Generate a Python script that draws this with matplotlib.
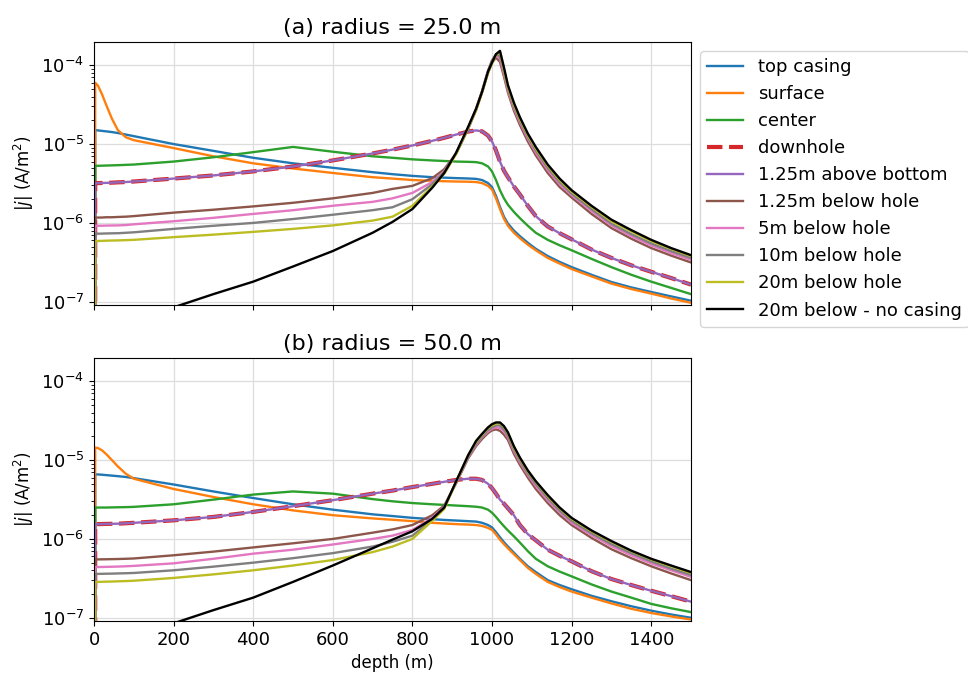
import matplotlib
matplotlib.use("Agg")
import matplotlib.pyplot as plt

depth = [0, 3, 10, 20, 30, 45, 60, 80, 100,
         200, 300, 400, 500, 600, 700, 750, 800, 850,
         880, 910, 940, 960, 975, 990, 1000, 1010, 1020,
         1030, 1040, 1055, 1070, 1090, 1110, 1140, 1170, 1200,
         1250, 1300, 1350, 1400, 1450, 1500]

labels = ["top casing", "surface", "center", "downhole", "1.25m above bottom",
          "1.25m below hole", "5m below hole", "10m below hole", "20m below hole",
          "20m below - no casing"]

# ---------------- (a) radius = 25.0 m ----------------
a_top_casing = [0, 1.5e-5, 1.49e-5, 1.47e-5, 1.45e-5, 1.42e-5, 1.38e-5, 1.32e-5, 1.26e-5,
                1.0e-5, 8.2e-6, 6.7e-6, 5.7e-6, 5.0e-6, 4.4e-6, 4.15e-6, 3.95e-6, 3.8e-6,
                3.75e-6, 3.7e-6, 3.66e-6, 3.62e-6, 3.5e-6, 3.2e-6, 2.85e-6, 2.2e-6, 1.6e-6,
                1.2e-6, 9.8e-7, 8.0e-7, 6.8e-7, 5.6e-7, 4.7e-7, 3.8e-7, 3.2e-7, 2.75e-7,
                2.2e-7, 1.78e-7, 1.52e-7, 1.33e-7, 1.17e-7, 1.03e-7]
a_surface = [0, 6e-5, 5.5e-5, 4.3e-5, 3.2e-5, 2.1e-5, 1.5e-5, 1.22e-5, 1.12e-5,
             8.9e-6, 7.0e-6, 5.7e-6, 4.9e-6, 4.3e-6, 3.8e-6, 3.65e-6, 3.5e-6, 3.42e-6,
             3.38e-6, 3.35e-6, 3.33e-6, 3.3e-6, 3.2e-6, 2.95e-6, 2.65e-6, 2.05e-6, 1.5e-6,
             1.13e-6, 9.2e-7, 7.5e-7, 6.4e-7, 5.3e-7, 4.5e-7, 3.6e-7, 3.05e-7, 2.6e-7,
             2.1e-7, 1.7e-7, 1.45e-7, 1.27e-7, 1.1e-7, 9.7e-8]
a_center = [0, 5.3e-6, 5.3e-6, 5.32e-6, 5.34e-6, 5.37e-6, 5.4e-6, 5.45e-6, 5.5e-6,
            6.0e-6, 6.8e-6, 7.9e-6, 9.2e-6, 8.0e-6, 7.0e-6, 6.7e-6, 6.4e-6, 6.2e-6,
            6.1e-6, 6.0e-6, 5.95e-6, 5.9e-6, 5.7e-6, 5.2e-6, 4.5e-6, 3.5e-6, 2.6e-6,
            2.05e-6, 1.7e-6, 1.38e-6, 1.15e-6, 9.2e-7, 7.5e-7, 6.1e-7, 5.2e-7, 4.5e-7,
            3.5e-7, 2.75e-7, 2.2e-7, 1.8e-7, 1.5e-7, 1.25e-7]
a_downhole = [0, 3.2e-6, 3.2e-6, 3.21e-6, 3.22e-6, 3.24e-6, 3.27e-6, 3.3e-6, 3.35e-6,
              3.65e-6, 4.0e-6, 4.5e-6, 5.2e-6, 6.2e-6, 7.6e-6, 8.5e-6, 9.6e-6, 1.1e-5,
              1.2e-5, 1.32e-5, 1.44e-5, 1.49e-5, 1.45e-5, 1.28e-5, 1.08e-5, 8.3e-6, 6.0e-6,
              4.6e-6, 3.8e-6, 2.9e-6, 2.3e-6, 1.65e-6, 1.22e-6, 9.0e-7, 7.4e-7, 6.2e-7,
              4.6e-7, 3.6e-7, 2.9e-7, 2.4e-7, 2.0e-7, 1.65e-7]
a_above_bottom = [0, 3.2e-6, 3.2e-6, 3.21e-6, 3.22e-6, 3.24e-6, 3.27e-6, 3.3e-6, 3.35e-6,
                  3.65e-6, 4.0e-6, 4.5e-6, 5.2e-6, 6.2e-6, 7.6e-6, 8.5e-6, 9.6e-6, 1.1e-5,
                  1.2e-5, 1.32e-5, 1.44e-5, 1.49e-5, 1.45e-5, 1.28e-5, 1.08e-5, 8.3e-6, 6.0e-6,
                  4.6e-6, 3.8e-6, 2.9e-6, 2.3e-6, 1.65e-6, 1.22e-6, 9.0e-7, 7.4e-7, 6.2e-7,
                  4.6e-7, 3.6e-7, 2.9e-7, 2.4e-7, 2.0e-7, 1.65e-7]
a_below_1 = [0, 1.17e-6, 1.17e-6, 1.17e-6, 1.18e-6, 1.18e-6, 1.19e-6, 1.2e-6, 1.22e-6,
             1.35e-6, 1.47e-6, 1.62e-6, 1.8e-6, 2.05e-6, 2.4e-6, 2.7e-6, 2.95e-6, 3.7e-6,
             4.8e-6, 7.6e-6, 1.55e-5, 2.7e-5, 4.5e-5, 8.0e-5, 1.08e-4, 1.25e-4, 1.1e-4,
             7.2e-5, 4.5e-5, 2.65e-5, 1.75e-5, 1.08e-5, 7.2e-6, 4.3e-6, 2.85e-6, 2.1e-6,
             1.3e-6, 8.6e-7, 6.3e-7, 4.8e-7, 3.85e-7, 3.15e-7]
a_below_5 = [0, 9.2e-7, 9.2e-7, 9.22e-7, 9.25e-7, 9.28e-7, 9.3e-7, 9.4e-7, 9.6e-7,
             1.05e-6, 1.16e-6, 1.3e-6, 1.45e-6, 1.65e-6, 1.85e-6, 2.05e-6, 2.4e-6, 3.3e-6,
             4.5e-6, 7.6e-6, 1.6e-5, 2.8e-5, 4.7e-5, 8.5e-5, 1.15e-4, 1.33e-4, 1.2e-4,
             7.8e-5, 4.8e-5, 2.85e-5, 1.9e-5, 1.18e-5, 7.8e-6, 4.7e-6, 3.1e-6, 2.25e-6,
             1.42e-6, 9.3e-7, 6.8e-7, 5.2e-7, 4.15e-7, 3.4e-7]
a_below_10 = [0, 7.3e-7, 7.3e-7, 7.32e-7, 7.35e-7, 7.38e-7, 7.4e-7, 7.5e-7, 7.6e-7,
              8.4e-7, 9.2e-7, 1.0e-6, 1.12e-6, 1.27e-6, 1.45e-6, 1.58e-6, 2.0e-6, 3.1e-6,
              4.4e-6, 7.6e-6, 1.6e-5, 2.8e-5, 4.7e-5, 8.5e-5, 1.15e-4, 1.38e-4, 1.3e-4,
              8.4e-5, 5.1e-5, 3.0e-5, 2.0e-5, 1.24e-5, 8.3e-6, 5.0e-6, 3.3e-6, 2.35e-6,
              1.5e-6, 9.8e-7, 7.2e-7, 5.5e-7, 4.4e-7, 3.6e-7]
a_below_20 = [0, 5.9e-7, 5.9e-7, 5.92e-7, 5.95e-7, 5.98e-7, 6.0e-7, 6.05e-7, 6.1e-7,
              6.6e-7, 7.1e-7, 7.7e-7, 8.4e-7, 9.3e-7, 1.07e-6, 1.2e-6, 1.65e-6, 2.9e-6,
              4.2e-6, 7.5e-6, 1.6e-5, 2.7e-5, 4.5e-5, 8.0e-5, 1.05e-4, 1.35e-4, 1.5e-4,
              8.8e-5, 5.3e-5, 3.2e-5, 2.1e-5, 1.3e-5, 8.8e-6, 5.3e-6, 3.5e-6, 2.5e-6,
              1.6e-6, 1.05e-6, 7.8e-7, 5.9e-7, 4.7e-7, 3.8e-7]
a_no_casing = [4.2e-8, 4.2e-8, 4.3e-8, 4.4e-8, 4.5e-8, 4.7e-8, 5.0e-8, 5.4e-8, 5.9e-8,
               8.5e-8, 1.25e-7, 1.8e-7, 2.8e-7, 4.4e-7, 7.5e-7, 1.03e-6, 1.5e-6, 2.8e-6,
               4.3e-6, 7.8e-6, 1.65e-5, 2.8e-5, 4.6e-5, 8.3e-5, 1.08e-4, 1.38e-4, 1.52e-4,
               9.4e-5, 5.6e-5, 3.35e-5, 2.2e-5, 1.36e-5, 9.2e-6, 5.5e-6, 3.65e-6, 2.6e-6,
               1.65e-6, 1.1e-6, 8.1e-7, 6.1e-7, 4.8e-7, 3.9e-7]

# ---------------- (b) radius = 50.0 m ----------------
b_top_casing = [0, 6.6e-6, 6.57e-6, 6.52e-6, 6.45e-6, 6.35e-6, 6.25e-6, 6.1e-6, 5.9e-6,
                4.9e-6, 4.0e-6, 3.3e-6, 2.75e-6, 2.35e-6, 2.05e-6, 1.95e-6, 1.85e-6, 1.78e-6,
                1.74e-6, 1.71e-6, 1.68e-6, 1.66e-6, 1.6e-6, 1.5e-6, 1.4e-6, 1.22e-6, 1.05e-6,
                9.1e-7, 8.0e-7, 6.7e-7, 5.6e-7, 4.5e-7, 3.8e-7, 3.0e-7, 2.6e-7, 2.3e-7,
                1.9e-7, 1.62e-7, 1.4e-7, 1.23e-7, 1.1e-7, 1.0e-7]
b_surface = [0, 1.44e-5, 1.42e-5, 1.33e-5, 1.2e-5, 1.0e-5, 8.3e-6, 6.7e-6, 5.8e-6,
             4.3e-6, 3.4e-6, 2.75e-6, 2.3e-6, 2.0e-6, 1.82e-6, 1.75e-6, 1.68e-6, 1.6e-6,
             1.57e-6, 1.54e-6, 1.52e-6, 1.5e-6, 1.46e-6, 1.38e-6, 1.3e-6, 1.14e-6, 9.8e-7,
             8.6e-7, 7.6e-7, 6.4e-7, 5.4e-7, 4.3e-7, 3.6e-7, 2.85e-7, 2.45e-7, 2.15e-7,
             1.8e-7, 1.52e-7, 1.3e-7, 1.15e-7, 1.04e-7, 9.5e-8]
b_center = [0, 2.5e-6, 2.5e-6, 2.5e-6, 2.5e-6, 2.51e-6, 2.52e-6, 2.53e-6, 2.55e-6,
            2.75e-6, 3.15e-6, 3.65e-6, 4.0e-6, 3.75e-6, 3.2e-6, 3.0e-6, 2.85e-6, 2.75e-6,
            2.7e-6, 2.65e-6, 2.6e-6, 2.56e-6, 2.5e-6, 2.35e-6, 2.15e-6, 1.9e-6, 1.65e-6,
            1.45e-6, 1.28e-6, 1.08e-6, 9.0e-7, 7.0e-7, 5.6e-7, 4.5e-7, 3.85e-7, 3.35e-7,
            2.65e-7, 2.15e-7, 1.8e-7, 1.5e-7, 1.32e-7, 1.18e-7]
b_downhole = [0, 1.54e-6, 1.54e-6, 1.545e-6, 1.55e-6, 1.555e-6, 1.56e-6, 1.58e-6, 1.6e-6,
              1.72e-6, 1.9e-6, 2.2e-6, 2.6e-6, 3.1e-6, 3.75e-6, 4.1e-6, 4.55e-6, 5.0e-6,
              5.3e-6, 5.6e-6, 5.8e-6, 5.8e-6, 5.6e-6, 5.0e-6, 4.4e-6, 3.75e-6, 3.15e-6,
              2.8e-6, 2.45e-6, 2.0e-6, 1.5e-6, 1.15e-6, 9.6e-7, 7.3e-7, 6.1e-7, 5.2e-7,
              3.9e-7, 3.1e-7, 2.6e-7, 2.2e-7, 1.88e-7, 1.6e-7]
b_above_bottom = [0, 1.54e-6, 1.54e-6, 1.545e-6, 1.55e-6, 1.555e-6, 1.56e-6, 1.58e-6, 1.6e-6,
                  1.72e-6, 1.9e-6, 2.2e-6, 2.6e-6, 3.1e-6, 3.75e-6, 4.1e-6, 4.55e-6, 5.0e-6,
                  5.3e-6, 5.6e-6, 5.8e-6, 5.8e-6, 5.6e-6, 5.0e-6, 4.4e-6, 3.75e-6, 3.15e-6,
                  2.8e-6, 2.45e-6, 2.0e-6, 1.5e-6, 1.15e-6, 9.6e-7, 7.3e-7, 6.1e-7, 5.2e-7,
                  3.9e-7, 3.1e-7, 2.6e-7, 2.2e-7, 1.88e-7, 1.6e-7]
b_below_1 = [0, 5.5e-7, 5.5e-7, 5.51e-7, 5.52e-7, 5.54e-7, 5.56e-7, 5.6e-7, 5.65e-7,
             6.2e-7, 6.9e-7, 7.8e-7, 8.8e-7, 1.0e-6, 1.2e-6, 1.32e-6, 1.5e-6, 2.0e-6,
             2.65e-6, 5.1e-6, 1.05e-5, 1.5e-5, 1.85e-5, 2.2e-5, 2.38e-5, 2.45e-5, 2.35e-5,
             2.1e-5, 1.8e-5, 1.2e-5, 8.7e-6, 6.0e-6, 4.3e-6, 2.85e-6, 2.0e-6, 1.5e-6,
             1.03e-6, 7.4e-7, 5.7e-7, 4.5e-7, 3.65e-7, 3.0e-7]
b_below_5 = [0, 4.4e-7, 4.4e-7, 4.41e-7, 4.42e-7, 4.44e-7, 4.46e-7, 4.5e-7, 4.55e-7,
             4.9e-7, 5.6e-7, 6.5e-7, 7.3e-7, 8.5e-7, 1.0e-6, 1.1e-6, 1.3e-6, 1.85e-6,
             2.55e-6, 5.2e-6, 1.08e-5, 1.55e-5, 1.95e-5, 2.3e-5, 2.5e-5, 2.6e-5, 2.55e-5,
             2.3e-5, 1.95e-5, 1.3e-5, 9.4e-6, 6.5e-6, 4.7e-6, 3.1e-6, 2.2e-6, 1.6e-6,
             1.12e-6, 8.1e-7, 6.2e-7, 4.9e-7, 4.0e-7, 3.3e-7]
b_below_10 = [0, 3.6e-7, 3.6e-7, 3.61e-7, 3.62e-7, 3.63e-7, 3.65e-7, 3.67e-7, 3.7e-7,
              4.0e-7, 4.45e-7, 5.0e-7, 5.7e-7, 6.6e-7, 8.0e-7, 9.2e-7, 1.1e-6, 1.75e-6,
              2.5e-6, 5.3e-6, 1.1e-5, 1.6e-5, 2.0e-5, 2.4e-5, 2.6e-5, 2.75e-5, 2.75e-5,
              2.45e-5, 2.05e-5, 1.37e-5, 9.9e-6, 6.8e-6, 5.0e-6, 3.3e-6, 2.3e-6, 1.7e-6,
              1.18e-6, 8.6e-7, 6.6e-7, 5.2e-7, 4.2e-7, 3.5e-7]
b_below_20 = [0, 2.85e-7, 2.85e-7, 2.86e-7, 2.87e-7, 2.88e-7, 2.9e-7, 2.92e-7, 2.95e-7,
              3.2e-7, 3.55e-7, 4.0e-7, 4.6e-7, 5.4e-7, 6.8e-7, 8.0e-7, 1.0e-6, 1.7e-6,
              2.4e-6, 5.3e-6, 1.15e-5, 1.7e-5, 2.1e-5, 2.55e-5, 2.75e-5, 2.9e-5, 2.95e-5,
              2.65e-5, 2.2e-5, 1.45e-5, 1.05e-5, 7.2e-6, 5.3e-6, 3.5e-6, 2.45e-6, 1.8e-6,
              1.25e-6, 9.2e-7, 7.0e-7, 5.5e-7, 4.5e-7, 3.7e-7]
b_no_casing = [4.2e-8, 4.2e-8, 4.3e-8, 4.4e-8, 4.5e-8, 4.7e-8, 5.0e-8, 5.4e-8, 5.9e-8,
               8.5e-8, 1.25e-7, 1.8e-7, 2.85e-7, 4.6e-7, 7.6e-7, 9.8e-7, 1.25e-6, 1.8e-6,
               2.5e-6, 5.4e-6, 1.15e-5, 1.75e-5, 2.15e-5, 2.6e-5, 2.85e-5, 3.0e-5, 3.0e-5,
               2.7e-5, 2.25e-5, 1.5e-5, 1.08e-5, 7.4e-6, 5.4e-6, 3.6e-6, 2.5e-6, 1.85e-6,
               1.28e-6, 9.4e-7, 7.1e-7, 5.6e-7, 4.6e-7, 3.8e-7]

titles = ["(a) radius = 25.0 m", "(b) radius = 50.0 m"]
xticks = [0, 200, 400, 600, 800, 1000, 1200, 1400]

series_a = [a_top_casing, a_surface, a_center, a_downhole, a_above_bottom, a_below_1,
            a_below_5, a_below_10, a_below_20, a_no_casing]
series_b = [b_top_casing, b_surface, b_center, b_downhole, b_above_bottom, b_below_1,
            b_below_5, b_below_10, b_below_20, b_no_casing]

colors = ["C0", "C1", "C2", "C3", "C4", "C5", "C6", "C7", "C8", "k"]
styles = ["-", "-", "-", "--", "-", "-", "-", "-", "-", "-"]
widths = [1.7, 1.7, 1.7, 3.0, 1.7, 1.7, 1.7, 1.7, 1.7, 1.7]

plt.rcParams["font.family"] = ["DejaVu Sans"]
fig = plt.figure(figsize=(9.68, 6.76), dpi=100)
W, H = 968.0, 676.0
ax1 = fig.add_axes([94 / W, 1 - 305 / H, (691 - 94) / W, (305 - 42) / H])
ax2 = fig.add_axes([94 / W, 1 - 621 / H, (691 - 94) / W, (621 - 358) / H],
                   sharex=ax1, sharey=ax1)

for ax, series, title in [(ax1, series_a, titles[0]), (ax2, series_b, titles[1])]:
    for vals, lab, c, ls, lw in zip(series, labels, colors, styles, widths):
        ax.plot(depth, vals, color=c, ls=ls, lw=lw, label=lab)
    ax.set_yscale("log")
    ax.set_title(title, fontsize=16)
    ax.set_ylabel(r"$|j|$ (A/m$^2$)", fontsize=12)
    ax.grid(True, which="major", color="#dddddd", lw=0.9)
    ax.tick_params(labelsize=13)

ax1.set_xlim(0, 1500)
ax1.set_ylim(9.1e-8, 1.97e-4)
ax1.set_xticks(xticks)
plt.setp(ax1.get_xticklabels(), visible=False)
ax2.set_xlabel("depth (m)", fontsize=12)

ax1.legend(loc="upper left", bbox_to_anchor=(1.0, 1.0), fontsize=13,
           handlelength=2.0, borderaxespad=0.5)

fig.savefig("out.png", dpi=100)
